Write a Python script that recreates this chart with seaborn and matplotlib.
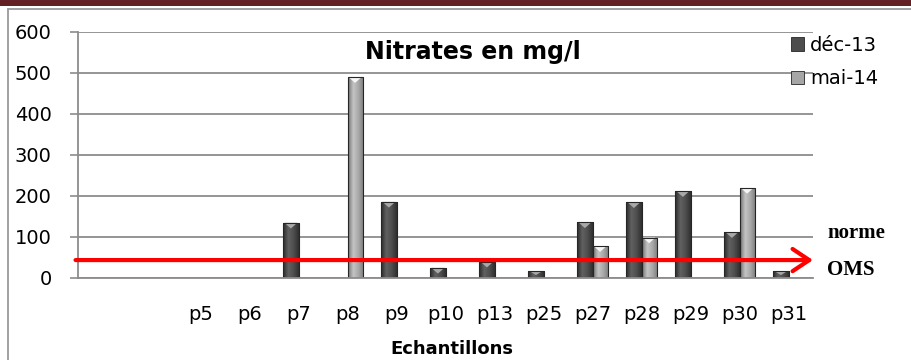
import numpy as np
import pandas as pd
import matplotlib
matplotlib.use("Agg")
import matplotlib.pyplot as plt
from matplotlib.colors import LinearSegmentedColormap
from matplotlib.patches import Rectangle, Polygon
from matplotlib.lines import Line2D
import seaborn as sns

# Sampling points (two unnamed slots precede p5 on the axis)
categories = ["", " ", "p5", "p6", "p7", "p8", "p9", "p10", "p13",
              "p25", "p27", "p28", "p29", "p30", "p31"]
dec13 = [0, 0, 0, 0, 134, 0, 185, 24, 39, 16, 135, 184, 211, 111, 16]
mai14 = [0, 0, 0, 0, 0, 489, 0, 0, 0, 0, 77, 98, 0, 219, 0]
series_names = ["déc-13", "mai-14"]
norme_oms = 43
y_ticks = [0, 100, 200, 300, 400, 500, 600]

df = pd.DataFrame({
    "Echantillon": categories * 2,
    "Nitrates": dec13 + mai14,
    "Campagne": [series_names[0]] * len(categories) + [series_names[1]] * len(categories),
})

sns.set_theme(style="white")
plt.rcParams["font.family"] = ["DejaVu Sans"]
plt.rcParams["text.color"] = "black"
plt.rcParams["xtick.color"] = "black"
plt.rcParams["ytick.color"] = "black"

W, H = 911, 360
fig = plt.figure(figsize=(W / 100, H / 100), dpi=100)
fig.patch.set_facecolor("white")

x0, x1, y_top, y_bot = 78, 813, 31.7, 277.7
ax = fig.add_axes([x0 / W, 1 - y_bot / H, (x1 - x0) / W, (y_bot - y_top) / H])

base_cols = {"déc-13": "#4d4d4d", "mai-14": "#a6a6a6"}
sns.barplot(data=df, x="Echantillon", y="Nitrates", hue="Campagne",
            order=categories, hue_order=series_names, palette=base_cols,
            width=0.62, gap=0, ax=ax, legend=False, saturation=1,
            edgecolor="#2b2b2b", linewidth=0.6)

# Cylinder-like shading on every bar
grad_specs = {
    "déc-13": (["#2a2a2a", "#616161", "#4e4e4e", "#303030"], "#a9a9a9"),
    "mai-14": (["#747474", "#c4c4c4", "#a8a8a8", "#7c7c7c"], "#f6f6f6"),
}
for container, name in zip(ax.containers, series_names):
    cmap = LinearSegmentedColormap.from_list(name, grad_specs[name][0])
    tri_col = grad_specs[name][1]
    for bar in container:
        h = bar.get_height()
        if h <= 0:
            bar.set_visible(False)
            continue
        bx, bw = bar.get_x(), bar.get_width()
        im = ax.imshow(np.linspace(0, 1, 64)[None, :], cmap=cmap, aspect="auto",
                       extent=(bx, bx + bw, 0, h), zorder=bar.get_zorder() + 0.1,
                       interpolation="bilinear")
        im.set_clip_path(bar)
        d = min(14, 0.6 * h)
        ax.add_patch(Polygon([(bx + 0.08 * bw, h), (bx + 0.92 * bw, h), (bx + 0.5 * bw, h - d)],
                             closed=True, facecolor=tri_col, edgecolor="none",
                             zorder=bar.get_zorder() + 0.2))
        ax.add_patch(Rectangle((bx, 0), bw, h, fill=False, edgecolor="#262626",
                               linewidth=0.8, zorder=bar.get_zorder() + 0.3))

ax.set_xlim(-0.5, len(categories) - 0.5)
ax.set_ylim(0, 600)
ax.set_yticks(y_ticks)
ax.set_yticklabels([str(v) for v in y_ticks], fontsize=14, color="black")
ax.set_xticks(range(len(categories)))
ax.set_xticklabels(categories, fontsize=14, color="black")
ax.set_xticks(np.arange(-0.5, len(categories), 1), minor=True)
ax.tick_params(axis="x", which="major", length=0, pad=20)
ax.tick_params(axis="x", which="minor", length=6, width=1.2, color="#8c8c8c", direction="out")
ax.tick_params(axis="y", which="major", length=6, width=1.2, color="#8c8c8c",
               direction="out", pad=13, left=True)
ax.yaxis.grid(True, color="#8c8c8c", linewidth=1.3)
ax.set_axisbelow(True)
for side in ["top", "right"]:
    ax.spines[side].set_visible(False)
for side in ["left", "bottom"]:
    ax.spines[side].set_color("#8c8c8c")
    ax.spines[side].set_linewidth(1.3)
ax.set_xlabel("")
ax.set_ylabel("")

# WHO guideline arrow
ax.annotate("", xy=(len(categories) - 0.5, norme_oms), xytext=(-0.55, norme_oms),
            xycoords="data", textcoords="data", annotation_clip=False,
            arrowprops=dict(arrowstyle="->,head_length=0.6,head_width=0.4",
                            color="#ff0000", lw=3, mutation_scale=20,
                            shrinkA=0, shrinkB=0), zorder=10)
fig.text(827 / W, 1 - 233 / H, "norme", fontsize=15, fontweight="bold",
         family="Liberation Serif", va="center", ha="left", color="black")
fig.text(827 / W, 1 - 270 / H, "OMS", fontsize=15, fontweight="bold",
         family="Liberation Serif", va="center", ha="left", color="black")

# Title and axis label
fig.text(473 / W, 1 - 52 / H, "Nitrates en mg/l", fontsize=17, fontweight="bold",
         ha="center", va="center", color="black")
fig.text(452 / W, 1 - 349 / H, "Echantillons", fontsize=13, fontweight="bold",
         ha="center", va="center", color="black")

# Legend
handles = [Rectangle((0, 0), 1, 1, facecolor=base_cols[n], edgecolor="#262626", linewidth=0.6)
           for n in series_names]
leg = fig.legend(handles, series_names, loc="upper left", bbox_to_anchor=(781 / W, 1 - 26 / H),
                 frameon=False, fontsize=14, handlelength=0.7, handleheight=0.7,
                 handletextpad=0.3, labelspacing=0.75, borderpad=0)
for t in leg.get_texts():
    t.set_color("black")

# Outer frame and top band
fig.add_artist(Rectangle((0, 1 - 6 / H), 1, 6 / H, transform=fig.transFigure,
                         facecolor="#622024", edgecolor="none"))
fig.add_artist(Line2D([7.5 / W, 7.5 / W], [0, 1 - 8.5 / H], transform=fig.transFigure,
                      color="#9a9a9a", linewidth=1.3))
fig.add_artist(Line2D([7.5 / W, 1], [1 - 8.5 / H, 1 - 8.5 / H], transform=fig.transFigure,
                      color="#9a9a9a", linewidth=1.3))

fig.savefig("out.png", dpi=100)
